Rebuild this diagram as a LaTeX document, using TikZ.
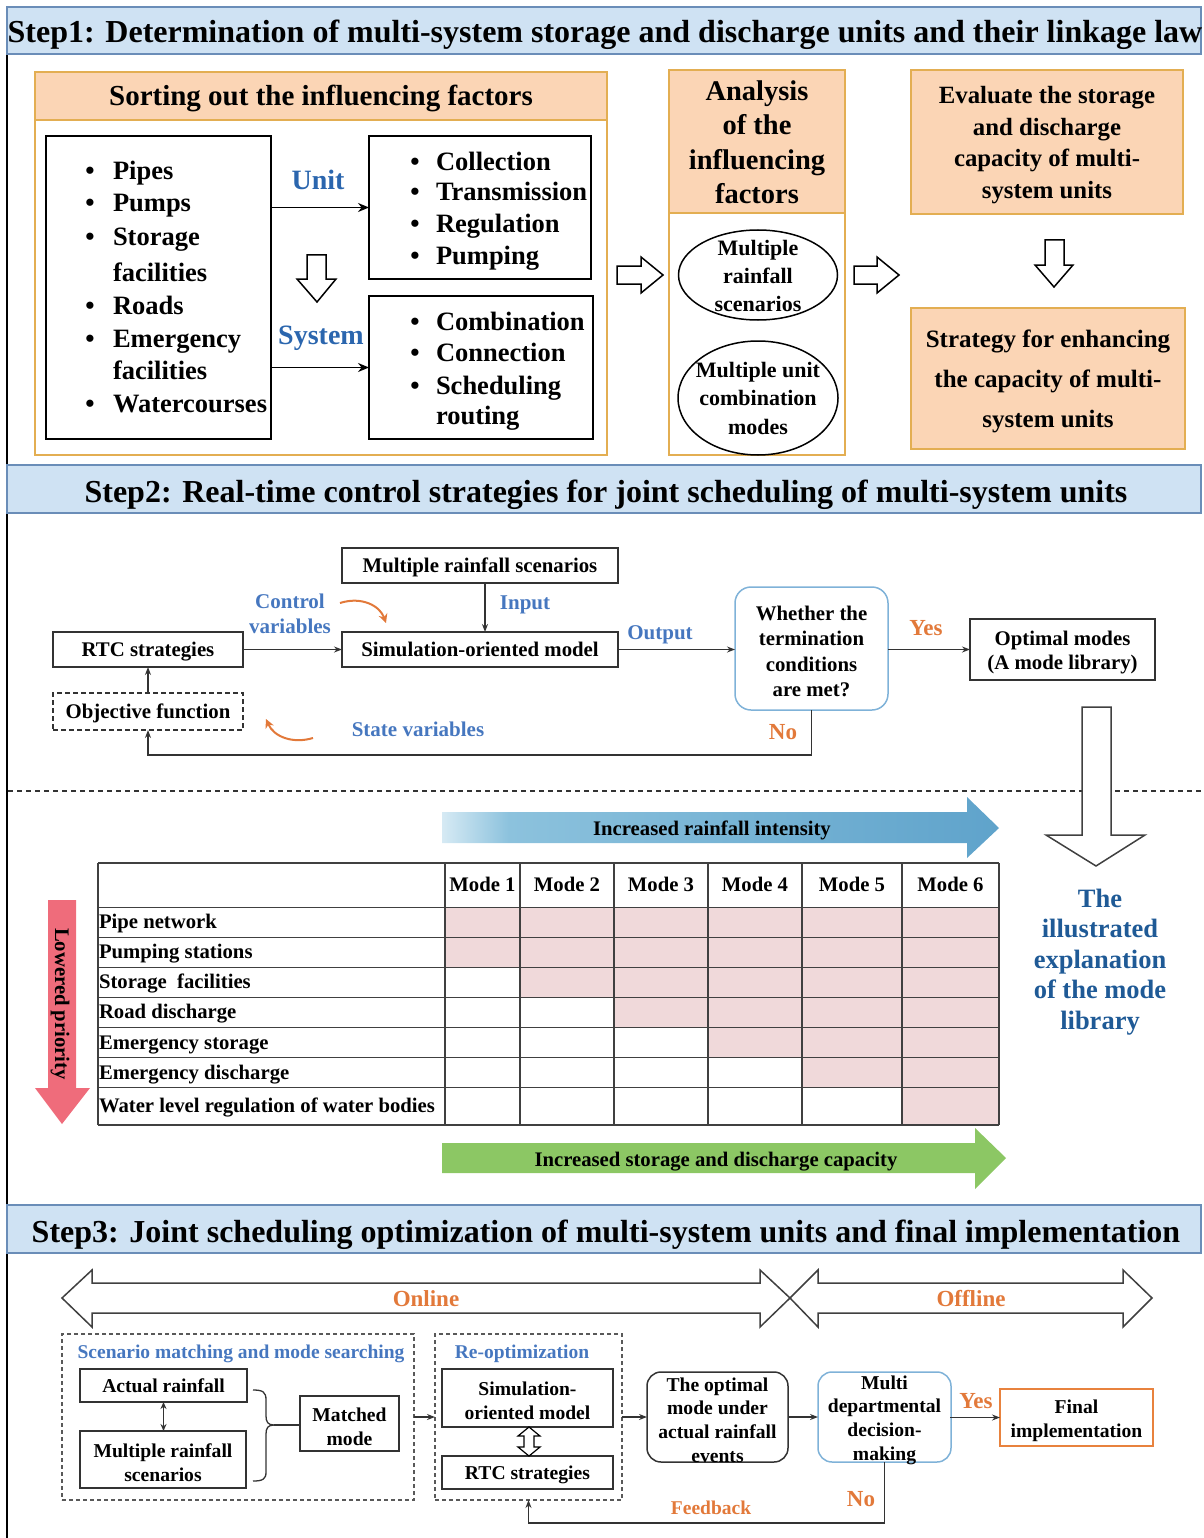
\documentclass[tikz,border=0pt]{standalone}
\usepackage{fontspec}
\setmainfont{Liberation Serif}
\usetikzlibrary{arrows.meta,shapes.geometric}

\definecolor{hdrfill}{HTML}{CFE2F3}
\definecolor{hdrline}{HTML}{6A8DB8}
\definecolor{peach}{HTML}{FBD5B5}
\definecolor{gold}{HTML}{E3AE52}
\definecolor{unitblue}{HTML}{2B66AE}
\definecolor{lblblue}{HTML}{4677BF}
\definecolor{darkblue}{HTML}{1F5A96}
\definecolor{orng}{HTML}{E2793A}
\definecolor{pinkcell}{HTML}{F0D9DA}
\definecolor{redarrow}{HTML}{EF6C7B}
\definecolor{greenarrow}{HTML}{8CC764}
\definecolor{rainlight}{HTML}{D6EAF4}
\definecolor{rainmid}{HTML}{8CC2DD}
\definecolor{raindeep}{HTML}{5FA3CB}
\definecolor{decblue}{HTML}{7FB2D8}
\definecolor{finalorange}{HTML}{E8823E}

\newcommand\fsz[2]{\fontsize{#1}{#2}\selectfont\bfseries}
% centred multi-line text inside a box, set a little lower than the box centre
\newcommand\boxtext[3]{\node[align=center,#1] (#2t) at ([yshift=-3pt]#2.center) {#3};}
\pgfdeclarehorizontalshading{rainshade}{100bp}{color(0bp)=(rainlight); color(25bp)=(rainlight); color(31bp)=(rainmid); color(75bp)=(raindeep); color(100bp)=(raindeep)}

\begin{document}
\begin{tikzpicture}[x=1pt,y=-1pt,
  every node/.style={inner sep=0pt,outer sep=0pt},
  sz/.style 2 args={minimum width=#1pt,minimum height=#2pt},
  hdrbox/.style={anchor=north west,draw=hdrline,fill=hdrfill,line width=1.5pt},
  hdrtext/.style={anchor=base,font=\fsz{32}{38}},
  s1box/.style={anchor=north west,draw=black,line width=2pt},
  pbox/.style={anchor=north west,draw=gold,fill=peach,line width=2pt,align=center},
  obox/.style={anchor=north west,draw=gold,line width=2pt},
  fbox/.style={anchor=north west,draw=black!80,line width=1.5pt,align=center,font=\fsz{20.8}{25}},
  one/.style={text height=14.5pt,text depth=0pt},
  gbox/.style={anchor=north west,draw=black!65,line width=1.3pt,dashed,dash pattern=on 4pt off 3pt},
  arr/.style={draw=black!80,line width=1.3pt,-{Stealth[length=8pt,width=6pt]}},
  arrb/.style={draw=black,line width=1.6pt,-{Stealth[length=11pt,width=9pt]}},
  hollow/.style={draw=black,line width=1.5pt,fill=white,line join=miter},
  bigarr/.style={draw=black!75,line width=1.5pt,fill=white,line join=miter},
  bul/.style={anchor=base west,font=\fsz{26.5}{32}},
  unitlbl/.style={text=unitblue,font=\fsz{28}{32},text height=19pt,text depth=0pt},
  lblb/.style={text=lblblue,font=\fsz{21}{25}},
  lblo/.style={text=orng,font=\fsz{23}{27},text height=15.5pt,text depth=0pt},
  cell/.style={font=\fsz{20.7}{24},text height=14pt,text depth=0pt},
  s3/.style={font=\fsz{19.6}{23.7}},
  curv/.style={draw=orng,line width=2pt,-{Stealth[length=9pt,width=9pt]}}
]
\useasboundingbox (0,0) rectangle (1203,1538);

% ---------- frame and section headers ----------
\draw[line width=2pt] (7,54) -- (7,1538);
\node[hdrbox,sz={1194}{47}] (h1) at (7,7) {};
\node[hdrbox,sz={1194}{48}] (h2) at (7,465) {};
\node[hdrbox,sz={1194}{48}] (h3) at (7,1205) {};
\node[hdrtext] (h1t) at (605,43) {Step1: Determination of multi-system storage and discharge units and their linkage law};
\node[hdrtext] (h2t) at (606,502) {Step2: Real-time control strategies for joint scheduling of multi-system units};
\node[hdrtext] (h3t) at (606,1242) {Step3: Joint scheduling optimization of multi-system units and final implementation};

% ---------- Step 1 ----------
\node[pbox,sz={572}{48},font=\fsz{29}{34},text height=20pt,text depth=0pt] (sorthead) at (35,72) {Sorting out the influencing factors};
\node[obox,sz={572}{383}] (sortbox) at (35,72) {};

\node[s1box,sz={225}{303}] (facs) at (46,136) {};
\node[s1box,sz={222}{143}] (unitbox) at (369,136) {};
\node[s1box,sz={224}{143}] (sysbox) at (369,296) {};

\foreach \t/\yy [count=\i] in {Pipes/171,Pumps/203,Storage/237,facilities/272,Roads/305,Emergency/338,facilities/370,Watercourses/403}
  \node[bul] (fa\i) at (113,\yy+9) {\t};
\foreach \yy [count=\i] in {171,203,237,305,338,403}
  \node[bul,anchor=base] (fb\i) at (90,\yy+9) {•};
\foreach \t/\yy [count=\i] in {Collection/162,Transmission/192,Regulation/224,Pumping/256}
  {\node[bul] (ua\i) at (436,\yy+9) {\t};
   \node[bul,anchor=base] (ub\i) at (415,\yy+9) {•};}
\foreach \t/\yy [count=\i] in {Combination/321,Connection/352,Scheduling/385,routing/415}
  \node[bul] (sa\i) at (436,\yy+9) {\t};
\foreach \yy [count=\i] in {321,352,385}
  \node[bul,anchor=base] (sb\i) at (415,\yy+9) {•};

\node[unitlbl] (unitlbl) at (318,180) {Unit};
\node[unitlbl] (syslbl) at (321,335) {System};
\draw[arrb] (facs.east |- unitbox.west) -- (unitbox.west);
\draw[arrb] (facs.east |- sysbox.west) -- (sysbox.west);
\draw[hollow] (307,255) -- (326,255) -- (326,279) -- (336,279) -- (317,302) -- (297,279) -- (307,279) -- cycle;

\draw[hollow] (617,266) -- (641,266) -- (641,257) -- (663,275) -- (641,293) -- (641,284) -- (617,284) -- cycle;

\node[pbox,sz={176}{143}] (anahead) at (669,70) {};
\node[align=center,font=\fsz{28.5}{34.5}] (anaheadt) at ([yshift=-1pt]anahead.center) {Analysis\\of the\\influencing\\factors};
\node[obox,sz={176}{385}] (anabox) at (669,70) {};
\node[ellipse,draw=black,line width=1.5pt,sz={159}{90}] (ell1) at (758,275) {};
\node[align=center,font=\fsz{22}{28}] (ell1t) at (758,276) {Multiple\\rainfall\\scenarios};
\node[ellipse,draw=black,line width=1.5pt,sz={160}{114}] (ell2) at (758,398) {};
\node[align=center,font=\fsz{22}{28.5}] (ell2t) at (758,398) {Multiple unit\\combination\\modes};

\draw[hollow] (854,266) -- (877,266) -- (877,257) -- (899,275) -- (877,293) -- (877,284) -- (854,284) -- cycle;

\node[pbox,sz={272}{144}] (evalbox) at (911,70) {};
\boxtext{font=\fsz{24.8}{31.7}}{evalbox}{Evaluate the storage\\and discharge\\capacity of multi-\\system units}
\draw[hollow] (1045,240) -- (1064,240) -- (1064,265) -- (1073,265) -- (1054,287) -- (1035,265) -- (1045,265) -- cycle;
\node[pbox,sz={274}{141}] (stratbox) at (911,308) {};
\boxtext{font=\fsz{25}{40}}{stratbox}{Strategy for enhancing\\the capacity of multi-\\system units}

% ---------- Step 2: flowchart ----------
\node[fbox,one,sz={276}{35}] (mrs) at (342,548) {Multiple rainfall scenarios};
\node[fbox,one,sz={276}{35}] (sim) at (342,632) {Simulation-oriented model};
\node[fbox,one,sz={190}{35}] (rtc) at (53,632) {RTC strategies};
\node[fbox,one,sz={190}{37},dashed,dash pattern=on 5pt off 3pt] (obj) at (53,693) {Objective function};
\node[fbox,sz={153}{123},draw=decblue,rounded corners=16pt] (dec) at (735,587) {};
\boxtext{font=\fsz{20.8}{25.3}}{dec}{Whether the\\termination\\conditions\\are met?}
\node[fbox,sz={185}{61}] (opt) at (970,619) {};
\boxtext{font=\fsz{20.8}{24}}{opt}{Optimal modes\\(A mode library)}

\coordinate (inx) at (485,0);
\coordinate (loopy) at (0,755);
\draw[arr] (rtc.east) -- (sim.west);
\draw[arr] (mrs.south -| inx) -- (sim.north -| inx);
\draw[arr] (sim.east) -- (dec.west |- sim.east);
\draw[arr] (dec.east |- opt.west) -- (opt.west);
\draw[arr] (obj.north) -- (rtc.south);
\draw[arr] (dec.south) -- (dec.south |- loopy) -- (obj.south |- loopy) -- (obj.south);

\node[lblb,align=center] (ctrl) at (290,614) {Control\\variables};
\node[lblb,one] (inlbl) at (525,602) {Input};
\node[lblb,one] (outlbl) at (660,632) {Output};
\node[lblb,one] (statelbl) at (418,729) {State variables};
\node[lblo] (yes1) at (926,628) {Yes};
\node[lblo] (no1) at (783,732) {No};
\coordinate (ca1) at (340,603);
\coordinate (ca2) at (386,623);
\coordinate (cb1) at (313,738);
\coordinate (cb2) at (266,719);
\draw[curv] (ca1) .. controls (362,596) and (380,606) .. (ca2);
\draw[curv] (cb1) .. controls (293,744) and (274,737) .. (cb2);

% ---------- Step 2: mode library ----------
\draw[black!80,line width=1.3pt,dashed,dash pattern=on 5pt off 4pt] (8,791) -- (1203,791);
\draw[bigarr] (1082,707) -- (1111,707) -- (1111,835) -- (1145,835) -- (1096,866) -- (1046,835) -- (1082,835) -- cycle;

\shade[shading=rainshade] (442,812) -- (967,812) -- (967,797) -- (999,828) -- (967,858) -- (967,843) -- (442,843) -- cycle;
\node[cell] (rainlbl) at (712,828) {Increased rainfall intensity};
\fill[greenarrow] (442,1143) -- (975,1143) -- (975,1128) -- (1006,1158) -- (975,1189) -- (975,1173) -- (442,1173) -- cycle;
\node[cell] (caplbl) at (716,1159) {Increased storage and discharge capacity};
\fill[redarrow] (48,900) -- (76,900) -- (76,1088) -- (90,1088) -- (62,1124) -- (35,1088) -- (48,1088) -- cycle;
\node[cell,rotate=-90] (prilbl) at (62,1004) {Lowered priority};

% pink cells: mode k covers rows 1..k+1
\fill[pinkcell] (445,907.5) rectangle (520,967.5);
\fill[pinkcell] (520,907.5) rectangle (614,997.5);
\fill[pinkcell] (614,907.5) rectangle (708,1027.5);
\fill[pinkcell] (708,907.5) rectangle (802,1057.5);
\fill[pinkcell] (802,907.5) rectangle (902,1087.5);
\fill[pinkcell] (902,907.5) rectangle (999,1125);
\foreach \yy in {863,907.5,937.5,967.5,997.5,1027.5,1057.5,1087.5,1125}
  \draw[black!75,line width=1.5pt] (98,\yy) -- (999,\yy);
\foreach \xx in {98,445,520,614,708,802,902,999}
  \draw[black!75,line width=1.5pt] (\xx,863) -- (\xx,1125);
\foreach \t/\xx [count=\i] in {Mode 1/482.5,Mode 2/567,Mode 3/661,Mode 4/755,Mode 5/852,Mode 6/950.5}
  \node[cell] (mode\i) at (\xx,884) {\t};
\foreach \t/\yy [count=\i] in {Pipe network/921,Pumping stations/951,Storage~~facilities/981,Road discharge/1011,Emergency storage/1042,Emergency discharge/1072,Water level regulation of water bodies/1105}
  \node[cell,anchor=west] (row\i) at (99,\yy) {\t};

\node[align=center,text=darkblue,font=\fsz{26.5}{30.5}] (libnote) at (1100,962) {The\\illustrated\\explanation\\of the mode\\library};

% ---------- Step 3 ----------
\draw[bigarr] (62,1298) -- (92,1270) -- (92,1283) -- (760,1283) -- (760,1270) -- (790,1298) -- (760,1327) -- (760,1313) -- (92,1313) -- (92,1327) -- cycle;
\draw[bigarr] (790,1298) -- (818,1270) -- (818,1283) -- (1123,1283) -- (1123,1270) -- (1152,1298) -- (1123,1327) -- (1123,1313) -- (818,1313) -- (818,1327) -- cycle;
\node[lblo] (onlbl) at (426,1299) {Online};
\node[lblo] (offlbl) at (971,1299) {Offline};

\node[gbox,sz={352}{166}] (grp1) at (62,1334) {};
\node[gbox,sz={187}{166}] (grp2) at (435,1334) {};
\node[text=lblblue,font=\fsz{19.5}{23},text height=13.5pt,text depth=0pt] (grp1t) at (241,1352) {Scenario matching and mode searching};
\node[text=lblblue,font=\fsz{19.5}{23},text height=13.5pt,text depth=0pt] (grp2t) at (522,1352) {Re-optimization};

\node[fbox,s3,text height=13.5pt,text depth=0pt,sz={167}{33}] (actual) at (80,1369) {Actual rainfall};
\node[fbox,sz={166}{57}] (mrs3) at (80,1431) {};
\boxtext{s3}{mrs3}{Multiple rainfall\\scenarios}
\node[fbox,sz={99}{55}] (matched) at (300,1396) {};
\boxtext{s3}{matched}{Matched\\mode}
\node[fbox,sz={171}{58}] (sim3) at (442,1369) {};
\boxtext{s3}{sim3}{Simulation-\\oriented model}
\node[fbox,s3,text height=13.5pt,text depth=0pt,sz={171}{33}] (rtc3) at (442,1456) {RTC strategies};
\node[fbox,sz={141}{90},rounded corners=14pt] (optm) at (647,1372) {};
\boxtext{s3}{optm}{The optimal\\mode under\\actual rainfall\\events}
\node[fbox,sz={133}{90},draw=decblue,rounded corners=14pt] (multi) at (818,1372) {};
\boxtext{s3}{multi}{Multi\\departmental\\decision-\\making}
\node[fbox,sz={153}{57},draw=finalorange] (final) at (1000,1389) {};
\boxtext{s3}{final}{Final\\implementation}

\draw[draw=black!80,line width=1.3pt,{Stealth[length=7pt,width=6pt]}-{Stealth[length=7pt,width=6pt]}] (actual.south) -- (actual.south |- mrs3.north);
% curly brace joining the two rainfall boxes
\coordinate (bracetip) at (274,1425);
\draw[black!80,line width=1.3pt] (253,1390) .. controls (263,1390) and (266,1392) .. (266,1400) -- (266,1416) .. controls (266,1422) and (268,1425) .. (bracetip) .. controls (268,1425) and (266,1428) .. (266,1434) -- (266,1472) .. controls (266,1479) and (263,1481) .. (253,1481);
\draw[black!80,line width=1.3pt] (bracetip) -- (matched.west |- bracetip);
\draw[hollow,line width=1.2pt] (529,1427) -- (540,1436) -- (534,1436) -- (534,1447) -- (540,1447) -- (529,1456) -- (518,1447) -- (524,1447) -- (524,1436) -- (518,1436) -- cycle;

\coordinate (fby) at (0,1523);
\draw[arr] (grp1.east) -- (grp2.west);
\draw[arr] (grp2.east) -- (optm.west);
\draw[arr] (optm.east) -- (multi.west);
\draw[arr] (multi.east) -- (final.west -| multi.east) -- (final.west);
\draw[arr] (multi.south) -- (multi.south |- fby) -- (grp2.south |- fby) -- (grp2.south);
\node[lblo] (yes2) at (976,1401) {Yes};
\node[lblo] (no2) at (861,1499) {No};
\node[text=orng,font=\fsz{19.5}{23},text height=13.5pt,text depth=0pt] (fblbl) at (711,1508) {Feedback};
\end{tikzpicture}
\end{document}
